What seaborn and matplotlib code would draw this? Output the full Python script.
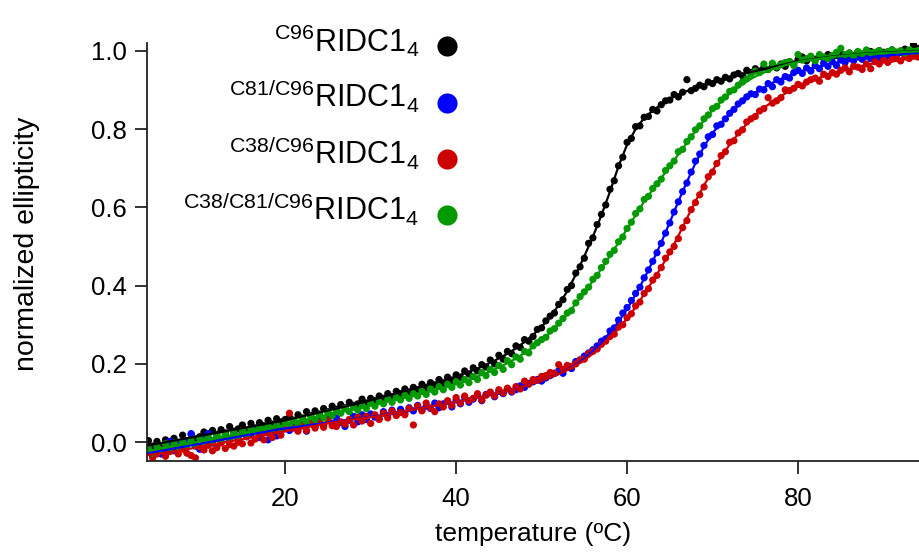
import numpy as np
import pandas as pd
import matplotlib
matplotlib.use("Agg")
import matplotlib.pyplot as plt
from matplotlib.lines import Line2D
import seaborn as sns

# ---- data -------------------------------------------------------------
variants = ["C96", "C81/C96", "C38/C96", "C38/C81/C96"]
colors = ["#000000", "#0000FF", "#CC0000", "#029901"]

# measured points, 4.0 .. 94.0 degC every 0.5 degC
temp_points = np.linspace(4.0, 94.0, 181)

pts_c96 = [
    0.004, -0.010, 0.002, -0.012, 0.006, -0.004, 0.010, -0.002, 0.018, 0.004,
    0.020, 0.008, 0.014, 0.026, 0.012, 0.030, 0.020, 0.032, 0.024, 0.040,
    0.028, 0.034, 0.044, 0.030, 0.048, 0.036, 0.050, 0.042, 0.056, 0.046,
    0.060, 0.052, 0.058, 0.064, 0.056, 0.070, 0.062, 0.078, 0.068, 0.080,
    0.072, 0.086, 0.078, 0.092, 0.084, 0.096, 0.088, 0.102, 0.094, 0.098,
    0.110, 0.100, 0.112, 0.106, 0.118, 0.112, 0.124, 0.116, 0.130, 0.124,
    0.136, 0.128, 0.140, 0.134, 0.148, 0.140, 0.152, 0.146, 0.160, 0.150,
    0.166, 0.158, 0.172, 0.166, 0.182, 0.174, 0.190, 0.182, 0.198, 0.192,
    0.210, 0.200, 0.222, 0.212, 0.232, 0.226, 0.246, 0.242, 0.262, 0.258,
    0.270, 0.288, 0.292, 0.310, 0.322, 0.330, 0.352, 0.364, 0.390, 0.400,
    0.432, 0.448, 0.470, 0.508, 0.522, 0.556, 0.582, 0.606, 0.646, 0.668,
    0.706, 0.728, 0.766, 0.776, 0.806, 0.808, 0.830, 0.832, 0.850, 0.846,
    0.862, 0.872, 0.874, 0.888, 0.882, 0.894, 0.926, 0.898, 0.904, 0.912,
    0.908, 0.920, 0.916, 0.926, 0.922, 0.932, 0.928, 0.938, 0.942, 0.936,
    0.950, 0.944, 0.954, 0.948, 0.958, 0.952, 0.962, 0.956, 0.966, 0.960,
    0.972, 0.966, 0.978, 0.984, 0.974, 0.982, 0.978, 0.986, 0.980, 0.990,
    0.984, 0.988, 0.992, 0.984, 0.994, 0.988, 0.996, 0.990, 0.992, 0.998,
    0.994, 1.000, 0.996, 0.992, 1.002, 0.996, 0.998, 1.004, 0.998, 1.016,
    1.006,
]
pts_c81_c96 = [
    -0.020, -0.034, -0.012, -0.030, -0.016, 0.002, -0.022, -0.006, -0.014, 0.004,
    0.022, -0.010, -0.018, 0.006, 0.022, -0.002, 0.010, 0.000, 0.014, 0.006,
    0.018, 0.008, 0.026, 0.014, 0.022, 0.032, 0.012, 0.024, 0.006, 0.030,
    0.016, 0.036, 0.044, 0.030, 0.040, 0.034, 0.046, 0.028, 0.052, 0.040,
    0.054, 0.042, 0.058, 0.048, 0.062, 0.050, 0.040, 0.056, 0.066, 0.052,
    0.070, 0.058, 0.072, 0.064, 0.060, 0.078, 0.068, 0.082, 0.070, 0.084,
    0.074, 0.088, 0.080, 0.094, 0.082, 0.092, 0.086, 0.100, 0.088, 0.098,
    0.104, 0.090, 0.108, 0.098, 0.114, 0.102, 0.110, 0.120, 0.106, 0.122,
    0.126, 0.116, 0.130, 0.124, 0.136, 0.128, 0.134, 0.144, 0.140, 0.150,
    0.154, 0.160, 0.156, 0.164, 0.170, 0.176, 0.182, 0.176, 0.192, 0.188,
    0.206, 0.210, 0.220, 0.228, 0.236, 0.246, 0.258, 0.264, 0.284, 0.292,
    0.312, 0.330, 0.344, 0.362, 0.380, 0.396, 0.420, 0.440, 0.462, 0.484,
    0.508, 0.534, 0.560, 0.588, 0.614, 0.640, 0.662, 0.690, 0.718, 0.736,
    0.758, 0.780, 0.786, 0.808, 0.812, 0.826, 0.840, 0.850, 0.864, 0.872,
    0.882, 0.890, 0.888, 0.902, 0.900, 0.916, 0.908, 0.926, 0.920, 0.934,
    0.930, 0.944, 0.950, 0.942, 0.956, 0.948, 0.962, 0.954, 0.968, 0.960,
    0.972, 0.962, 0.976, 0.970, 0.980, 0.974, 0.984, 0.978, 0.986, 0.980,
    0.988, 0.982, 0.992, 0.986, 0.994, 0.988, 0.996, 0.990, 0.998, 0.994,
    0.996,
]
pts_c38_c96 = [
    -0.026, -0.040, -0.030, -0.020, -0.036, -0.024, -0.012, -0.030, -0.018, -0.028,
    -0.034, -0.040, -0.012, -0.020, -0.008, -0.022, -0.014, -0.002, -0.016, -0.006,
    -0.010, 0.000, -0.004, 0.014, -0.002, 0.008, 0.020, 0.006, 0.024, 0.012,
    0.030, 0.018, 0.034, 0.074, 0.036, 0.028, 0.042, 0.030, 0.048, 0.036,
    0.050, 0.038, 0.056, 0.042, 0.040, 0.052, 0.046, 0.058, 0.044, 0.064,
    0.054, 0.066, 0.048, 0.070, 0.058, 0.074, 0.062, 0.080, 0.068, 0.076,
    0.070, 0.086, 0.044, 0.092, 0.080, 0.100, 0.088, 0.078, 0.098, 0.090,
    0.106, 0.094, 0.114, 0.100, 0.118, 0.106, 0.112, 0.124, 0.108, 0.120,
    0.128, 0.118, 0.134, 0.126, 0.138, 0.130, 0.142, 0.136, 0.156, 0.148,
    0.160, 0.158, 0.168, 0.170, 0.178, 0.176, 0.198, 0.186, 0.196, 0.194,
    0.200, 0.210, 0.212, 0.226, 0.232, 0.238, 0.250, 0.258, 0.270, 0.276,
    0.294, 0.300, 0.318, 0.328, 0.348, 0.358, 0.380, 0.392, 0.414, 0.426,
    0.446, 0.470, 0.486, 0.500, 0.520, 0.548, 0.566, 0.594, 0.612, 0.632,
    0.652, 0.678, 0.690, 0.712, 0.732, 0.742, 0.766, 0.770, 0.790, 0.798,
    0.818, 0.826, 0.832, 0.846, 0.852, 0.880, 0.866, 0.872, 0.880, 0.900,
    0.898, 0.904, 0.914, 0.910, 0.920, 0.926, 0.930, 0.922, 0.940, 0.934,
    0.944, 0.940, 0.950, 0.956, 0.946, 0.960, 0.958, 0.952, 0.966, 0.954,
    0.972, 0.966, 0.976, 0.970, 0.978, 0.980, 0.974, 0.984, 0.980, 0.986,
    0.984,
]
pts_c38_c81_c96 = [
    -0.016, -0.028, -0.010, -0.020, -0.004, -0.016, -0.002, -0.012, 0.002, -0.008,
    0.004, -0.006, 0.010, 0.002, 0.012, 0.004, 0.018, 0.008, 0.020, 0.010,
    0.024, 0.014, 0.030, 0.020, 0.034, 0.028, 0.038, 0.032, 0.042, 0.034,
    0.046, 0.036, 0.050, 0.044, 0.056, 0.048, 0.060, 0.052, 0.066, 0.058,
    0.070, 0.062, 0.076, 0.068, 0.080, 0.074, 0.086, 0.078, 0.090, 0.082,
    0.094, 0.086, 0.100, 0.092, 0.104, 0.098, 0.110, 0.102, 0.114, 0.108,
    0.120, 0.112, 0.124, 0.118, 0.130, 0.122, 0.136, 0.128, 0.142, 0.134,
    0.148, 0.140, 0.154, 0.146, 0.160, 0.152, 0.168, 0.160, 0.178, 0.170,
    0.186, 0.178, 0.196, 0.186, 0.208, 0.198, 0.218, 0.212, 0.232, 0.228,
    0.246, 0.254, 0.262, 0.268, 0.284, 0.290, 0.304, 0.316, 0.330, 0.336,
    0.356, 0.372, 0.384, 0.396, 0.416, 0.426, 0.446, 0.462, 0.480, 0.490,
    0.512, 0.524, 0.546, 0.562, 0.584, 0.596, 0.620, 0.628, 0.648, 0.660,
    0.672, 0.694, 0.706, 0.718, 0.742, 0.748, 0.768, 0.780, 0.798, 0.808,
    0.826, 0.836, 0.852, 0.858, 0.874, 0.882, 0.896, 0.900, 0.912, 0.920,
    0.928, 0.940, 0.948, 0.944, 0.966, 0.952, 0.968, 0.958, 0.964, 0.970,
    0.972, 0.962, 0.990, 0.976, 0.980, 0.986, 0.974, 0.990, 0.984, 0.980,
    0.988, 0.996, 1.006, 0.990, 0.994, 0.986, 0.998, 0.992, 1.002, 0.994,
    0.996, 1.000, 0.992, 0.998, 1.002, 0.996, 1.000, 0.994, 1.002, 0.998,
    1.000,
]

# fitted melting curves, 4 .. 94 degC every 1 degC
temp_fit = np.arange(4, 95)

fit_c96 = [
    -0.008, -0.004, 0.000, 0.004, 0.008, 0.012, 0.016, 0.020, 0.024, 0.028,
    0.032, 0.036, 0.040, 0.044, 0.048, 0.052, 0.056, 0.061, 0.066, 0.071,
    0.076, 0.081, 0.086, 0.091, 0.096, 0.101, 0.107, 0.113, 0.119, 0.125,
    0.131, 0.137, 0.143, 0.149, 0.155, 0.161, 0.168, 0.176, 0.184, 0.193,
    0.203, 0.214, 0.226, 0.240, 0.256, 0.274, 0.295, 0.320, 0.350, 0.386,
    0.428, 0.475, 0.525, 0.580, 0.640, 0.705, 0.760, 0.800, 0.828, 0.847,
    0.863, 0.877, 0.888, 0.897, 0.905, 0.912, 0.919, 0.925, 0.931, 0.937,
    0.943, 0.948, 0.953, 0.958, 0.963, 0.968, 0.972, 0.976, 0.979, 0.982,
    0.985, 0.987, 0.989, 0.991, 0.993, 0.994, 0.995, 0.996, 0.997, 0.998,
    0.999,
]
fit_c81_c96 = [
    -0.028, -0.024, -0.020, -0.016, -0.012, -0.008, -0.004, 0.000, 0.004, 0.008,
    0.012, 0.016, 0.020, 0.024, 0.028, 0.032, 0.035, 0.038, 0.041, 0.044,
    0.047, 0.050, 0.053, 0.056, 0.059, 0.062, 0.065, 0.068, 0.071, 0.075,
    0.079, 0.083, 0.087, 0.091, 0.095, 0.099, 0.103, 0.107, 0.111, 0.116,
    0.121, 0.126, 0.131, 0.137, 0.143, 0.150, 0.157, 0.165, 0.174, 0.185,
    0.198, 0.214, 0.233, 0.255, 0.280, 0.308, 0.340, 0.377, 0.418, 0.462,
    0.510, 0.562, 0.615, 0.665, 0.713, 0.755, 0.790, 0.815, 0.838, 0.860,
    0.878, 0.893, 0.906, 0.918, 0.928, 0.937, 0.945, 0.952, 0.958, 0.963,
    0.968, 0.972, 0.976, 0.979, 0.982, 0.985, 0.987, 0.989, 0.991, 0.993,
    0.994,
]
fit_c38_c96 = [
    -0.033, -0.030, -0.027, -0.024, -0.020, -0.016, -0.012, -0.008, -0.004, 0.000,
    0.004, 0.008, 0.012, 0.016, 0.020, 0.024, 0.028, 0.032, 0.036, 0.040,
    0.044, 0.048, 0.052, 0.055, 0.058, 0.061, 0.064, 0.067, 0.071, 0.075,
    0.079, 0.083, 0.087, 0.091, 0.095, 0.099, 0.103, 0.107, 0.111, 0.116,
    0.121, 0.126, 0.131, 0.137, 0.143, 0.150, 0.157, 0.165, 0.174, 0.184,
    0.196, 0.210, 0.226, 0.245, 0.267, 0.290, 0.316, 0.345, 0.378, 0.412,
    0.447, 0.485, 0.527, 0.572, 0.615, 0.656, 0.694, 0.729, 0.760, 0.788,
    0.813, 0.835, 0.854, 0.870, 0.884, 0.897, 0.908, 0.918, 0.927, 0.935,
    0.942, 0.948, 0.954, 0.959, 0.964, 0.968, 0.972, 0.975, 0.978, 0.981,
    0.984,
]
fit_c38_c81_c96 = [
    -0.022, -0.018, -0.014, -0.010, -0.006, -0.002, 0.002, 0.006, 0.010, 0.014,
    0.018, 0.022, 0.026, 0.030, 0.034, 0.039, 0.044, 0.049, 0.054, 0.059,
    0.064, 0.069, 0.074, 0.079, 0.084, 0.089, 0.094, 0.099, 0.104, 0.109,
    0.114, 0.119, 0.124, 0.130, 0.136, 0.142, 0.149, 0.156, 0.164, 0.172,
    0.181, 0.191, 0.202, 0.214, 0.228, 0.243, 0.260, 0.280, 0.302, 0.327,
    0.354, 0.382, 0.412, 0.443, 0.476, 0.510, 0.545, 0.580, 0.615, 0.645,
    0.675, 0.705, 0.735, 0.765, 0.795, 0.822, 0.848, 0.870, 0.890, 0.907,
    0.922, 0.934, 0.944, 0.953, 0.960, 0.966, 0.971, 0.975, 0.978, 0.981,
    0.984, 0.986, 0.988, 0.990, 0.992, 0.993, 0.994, 0.995, 0.996, 0.997,
    0.998,
]

pts_series = [pts_c96, pts_c81_c96, pts_c38_c96, pts_c38_c81_c96]
fit_series = [fit_c96, fit_c81_c96, fit_c38_c96, fit_c38_c81_c96]

pts_df = pd.concat(
    [pd.DataFrame({"temp": temp_points, "ellipticity": vals, "variant": v})
     for v, vals in zip(variants, pts_series)],
    ignore_index=True,
)
fit_df = pd.concat(
    [pd.DataFrame({"temp": temp_fit, "ellipticity": vals, "variant": v})
     for v, vals in zip(variants, fit_series)],
    ignore_index=True,
)
palette = dict(zip(variants, colors))

# ---- style ------------------------------------------------------------
sns.set_style("ticks")
plt.rcParams["font.family"] = ["Liberation Sans", "DejaVu Sans"]
plt.rcParams["mathtext.fontset"] = "custom"
plt.rcParams["mathtext.rm"] = "Liberation Sans"
plt.rcParams["mathtext.it"] = "Liberation Sans:italic"
plt.rcParams["mathtext.bf"] = "Liberation Sans:bold"
plt.rcParams["text.color"] = "black"
plt.rcParams["axes.labelcolor"] = "black"

fig = plt.figure(figsize=(9.19, 5.54), dpi=100)
ax = fig.add_axes([0.1596, 0.1679, 0.8404, 0.7545])

sns.scatterplot(data=pts_df, x="temp", y="ellipticity", hue="variant",
                hue_order=variants, palette=palette, s=27, linewidth=0,
                legend=False, ax=ax, zorder=2)
sns.lineplot(data=fit_df, x="temp", y="ellipticity", hue="variant",
             hue_order=variants, palette=palette, linewidth=1.6,
             legend=False, ax=ax, zorder=3)

ax.set_xlim(3.8, 94.15)
ax.set_ylim(-0.048, 1.0197)
ax.set_xticks([20, 40, 60, 80])
ax.set_yticks([0.0, 0.2, 0.4, 0.6, 0.8, 1.0])
ax.yaxis.set_major_formatter(matplotlib.ticker.FormatStrFormatter("%.1f"))

for side in ("top", "right"):
    ax.spines[side].set_visible(False)
for side in ("left", "bottom"):
    ax.spines[side].set_linewidth(1.3)
    ax.spines[side].set_color("#222222")

ax.tick_params(axis="both", direction="out", length=9, width=1.3,
               color="#222222", labelsize=18.5, labelcolor="black")
ax.tick_params(axis="x", pad=10)
ax.tick_params(axis="y", pad=5)

ax.set_xlabel("temperature (ºC)", fontsize=19)
ax.set_ylabel("normalized ellipticity", fontsize=20.5)
ax.yaxis.set_label_coords(-0.1385, 0.519)
ax.xaxis.set_label_coords(0.5, -0.146)

# legend: superscripted variant names, right aligned, marker on the right
labels = [r"$\mathregular{^{%s}RIDC1_{4}}$" % v for v in variants]
handles = [Line2D([], [], linestyle="none", marker="o", markersize=14.5,
                  markerfacecolor=c, markeredgewidth=0) for c in colors]
leg = fig.legend(handles, labels, loc="upper right",
                 bbox_to_anchor=(0.4975, 0.95), frameon=False,
                 fontsize=22, markerfirst=False, handlelength=0.7,
                 handletextpad=0.55, labelspacing=0.63, borderpad=0,
                 borderaxespad=0)
for col in leg._legend_handle_box.get_children():
    col.align = "right"
# names sit a little higher than the centre of their marker
for txt in leg.get_texts():
    txt.set_y(5)

fig.savefig("out.png", dpi=100)
